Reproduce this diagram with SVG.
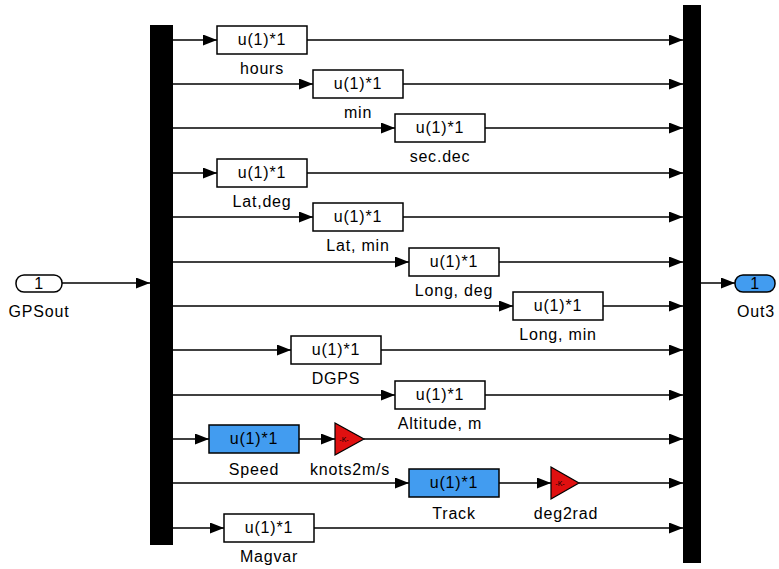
<svg xmlns="http://www.w3.org/2000/svg" width="779" height="569" viewBox="0 0 779 569">
<style>
.bg{fill:#ffffff}
.w{stroke:#000;stroke-width:1.5;fill:none;marker-end:url(#ah)}
.blk{fill:#ffffff;stroke:#000;stroke-width:1.5}
.blue{fill:#429cf0;stroke:#000;stroke-width:1.5}
.tri{fill:#e01010;stroke:#000;stroke-width:1.2}
.bar{fill:#000}
text{font-family:"Liberation Sans",Arial,sans-serif;font-size:16px;fill:#000;letter-spacing:0.8px}
.c{text-anchor:middle}
.k{font-size:7px;letter-spacing:0}
</style>
<defs>
<marker id="ah" markerWidth="14" markerHeight="11" refX="14" refY="5.5" orient="auto" markerUnits="userSpaceOnUse"><path d="M0,0 L14,5.5 L0,11 Z" fill="#000"/></marker>
</defs>
<rect class="bg" x="0" y="0" width="779" height="569"/>
<g id="connectors">
<path class="w" d="M62,283 L150,283"/>
<path class="w" d="M701,283 L735,283"/>
<path class="w" d="M173,40 L217,40"/><path class="w" d="M307,40 L683,40"/>
<path class="w" d="M173,84 L313,84"/><path class="w" d="M403,84 L683,84"/>
<path class="w" d="M173,128 L395,128"/><path class="w" d="M485,128 L683,128"/>
<path class="w" d="M173,173 L217,173"/><path class="w" d="M307,173 L683,173"/>
<path class="w" d="M173,217 L313,217"/><path class="w" d="M403,217 L683,217"/>
<path class="w" d="M173,262 L409,262"/><path class="w" d="M499,262 L683,262"/>
<path class="w" d="M173,306 L513,306"/><path class="w" d="M603,306 L683,306"/>
<path class="w" d="M173,350 L291,350"/><path class="w" d="M381,350 L683,350"/>
<path class="w" d="M173,395 L395,395"/><path class="w" d="M485,395 L683,395"/>
<path class="w" d="M173,439 L209,439"/><path class="w" d="M299,439 L335,439"/><path class="w" d="M364,439 L683,439"/>
<path class="w" d="M173,483 L409,483"/><path class="w" d="M499,483 L551,483"/><path class="w" d="M579,483 L683,483"/>
<path class="w" d="M173,528 L224,528"/><path class="w" d="M314,528 L683,528"/>
</g>
<g id="GPSout"><rect class="blk" x="16" y="275" width="46" height="17" rx="8"/><text class="c" x="39" y="289">1</text><text class="c" x="39" y="317">GPSout</text></g>
<g id="demux"><rect class="bar" x="150" y="25" width="23" height="520"/></g>
<g id="mux"><rect class="bar" x="683" y="5" width="18" height="558"/></g>
<g id="Out3"><rect class="blue" x="735" y="275" width="40" height="17" rx="8"/><text class="c" x="755" y="289">1</text><text class="c" x="756" y="317">Out3</text></g>
<g id="hours"><rect class="blk" x="217" y="26" width="90" height="28"/><text class="c" x="262" y="45">u(1)*1</text><text class="c" x="262" y="74">hours</text></g>
<g id="min"><rect class="blk" x="313" y="70" width="90" height="28"/><text class="c" x="358" y="89">u(1)*1</text><text class="c" x="358" y="118">min</text></g>
<g id="secdec"><rect class="blk" x="395" y="114" width="90" height="28"/><text class="c" x="440" y="133">u(1)*1</text><text class="c" x="440" y="162">sec.dec</text></g>
<g id="Latdeg"><rect class="blk" x="217" y="159" width="90" height="28"/><text class="c" x="262" y="178">u(1)*1</text><text class="c" x="262" y="207">Lat,deg</text></g>
<g id="Latmin"><rect class="blk" x="313" y="203" width="90" height="28"/><text class="c" x="358" y="222">u(1)*1</text><text class="c" x="358" y="251">Lat, min</text></g>
<g id="Longdeg"><rect class="blk" x="409" y="248" width="90" height="28"/><text class="c" x="454" y="267">u(1)*1</text><text class="c" x="454" y="296">Long, deg</text></g>
<g id="Longmin"><rect class="blk" x="513" y="292" width="90" height="28"/><text class="c" x="558" y="311">u(1)*1</text><text class="c" x="558" y="340">Long, min</text></g>
<g id="DGPS"><rect class="blk" x="291" y="336" width="90" height="28"/><text class="c" x="336" y="355">u(1)*1</text><text class="c" x="336" y="384">DGPS</text></g>
<g id="Altitude"><rect class="blk" x="395" y="381" width="90" height="28"/><text class="c" x="440" y="400">u(1)*1</text><text class="c" x="440" y="429">Altitude, m</text></g>
<g id="Speed"><rect class="blue" x="209" y="425" width="90" height="28"/><text class="c" x="254" y="444">u(1)*1</text><text class="c" x="254" y="475">Speed</text></g>
<g id="knots2ms"><polygon class="tri" points="335,423 364,439 335,455"/><text class="c k" x="344" y="442">-K-</text><text class="c" x="350" y="475">knots2m/s</text></g>
<g id="Track"><rect class="blue" x="409" y="469" width="90" height="28"/><text class="c" x="454" y="488">u(1)*1</text><text class="c" x="454" y="519">Track</text></g>
<g id="deg2rad"><polygon class="tri" points="551,467 579,483 551,499"/><text class="c k" x="560" y="486">-K-</text><text class="c" x="566" y="519">deg2rad</text></g>
<g id="Magvar"><rect class="blk" x="224" y="514" width="90" height="28"/><text class="c" x="269" y="533">u(1)*1</text><text class="c" x="269" y="562">Magvar</text></g>
</svg>
